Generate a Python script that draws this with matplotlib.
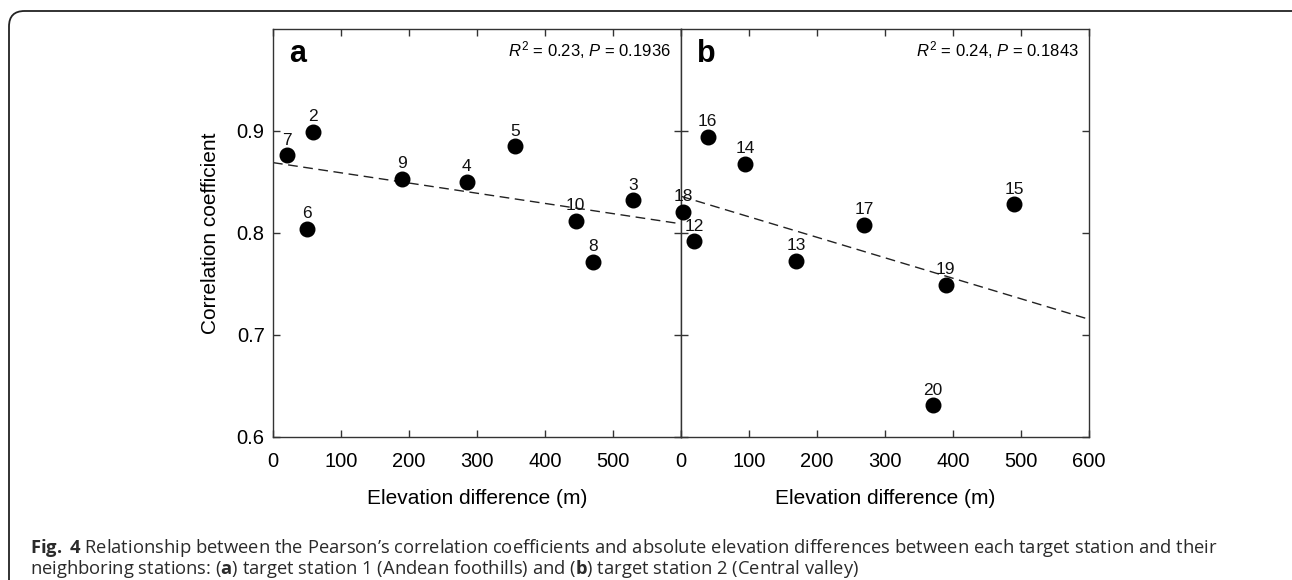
import numpy as np
import matplotlib as mpl
mpl.use('Agg')
import matplotlib.pyplot as plt
from matplotlib.patches import FancyBboxPatch

plt.rcParams['font.family'] = ['Liberation Sans', 'DejaVu Sans']
plt.rcParams['mathtext.fontset'] = 'custom'
plt.rcParams['mathtext.rm'] = 'Liberation Sans'
plt.rcParams['mathtext.it'] = 'Liberation Sans:italic'
plt.rcParams['mathtext.bf'] = 'Open Sans:bold'

# panel a: target station 1 (Andean foothills)
ids_a = ['7', '2', '6', '9', '4', '5', '10', '8', '3']
elev_a = [20, 59, 50, 190, 285, 356, 445, 470, 530]
corr_a = [0.876, 0.899, 0.804, 0.853, 0.850, 0.885, 0.812, 0.772, 0.832]
fit_a = (0.869, -0.000100)   # intercept, slope
stats_a = '$\\it{R}^2$ = 0.23, $\\it{P}$ = 0.1936'

# panel b: target station 2 (Central valley)
ids_b = ['18', '12', '16', '14', '13', '17', '20', '19', '15']
elev_b = [3, 19, 39, 94, 169, 269, 370, 389, 490]
corr_b = [0.821, 0.792, 0.894, 0.868, 0.773, 0.808, 0.631, 0.749, 0.828]
fit_b = (0.836, -0.000201)
stats_b = '$\\it{R}^2$ = 0.24, $\\it{P}$ = 0.1843'

xticks = [0, 100, 200, 300, 400, 500, 600]
yticks = [0.6, 0.7, 0.8, 0.9]

fig = plt.figure(figsize=(12.92, 5.80), dpi=100)
W, H = 1292, 580

# rounded frame around the figure
frame = FancyBboxPatch((9 / W, -0.2), 1.2, 1.2 - 11 / H,
                       boxstyle='round,pad=0,rounding_size=0.012',
                       transform=fig.transFigure, fill=False, lw=1.3,
                       ec='#222222', mutation_aspect=W / H)
fig.patches.append(frame)

ax_a = fig.add_axes([273 / W, 1 - 437 / H, 408 / W, 408 / H])
ax_b = fig.add_axes([681 / W, 1 - 437 / H, 408 / W, 408 / H])

panels = [(ax_a, ids_a, elev_a, corr_a, fit_a, stats_a, 'a'),
          (ax_b, ids_b, elev_b, corr_b, fit_b, stats_b, 'b')]

for ax, ids, ex, cy, fit, st, letter in panels:
    xs = np.array([0, 600])
    ax.plot(xs, fit[0] + fit[1] * xs, ls=(0, (7, 4)), color='#222222', lw=1.0)
    ax.scatter(ex, cy, s=110, color='black', zorder=3, clip_on=False)
    for lab, x, y in zip(ids, ex, cy):
        ax.annotate(lab, (x, y), xytext=(0, 5.5), textcoords='offset points',
                    ha='center', va='bottom', fontsize=12.5, color='#111111')
    ax.set_xlim(0, 600)
    ax.set_ylim(0.6, 1.0)
    ax.set_xticks(xticks)
    ax.set_yticks(yticks)
    ax.tick_params(direction='in', top=True, right=True, length=5,
                   width=1, labelsize=14.5, color='#333333')
    ax.tick_params(axis='x', pad=11)
    ax.tick_params(axis='y', pad=6)
    for sp in ax.spines.values():
        sp.set_linewidth(1.0)
        sp.set_color('#333333')
    ax.text(0.04, 0.975, letter, transform=ax.transAxes, fontsize=22,
            fontweight='bold', va='top', ha='left')
    ax.text(0.975, 0.975, st, transform=ax.transAxes, fontsize=12,
            va='top', ha='right')
    ax.set_xlabel('Elevation difference (m)', fontsize=15, labelpad=13)

ax_a.set_xticklabels(['0', '100', '200', '300', '400', '500', ''])
ax_a.set_ylabel('Correlation coefficient', fontsize=15, labelpad=12)
ax_b.set_yticklabels([])

cap_font = ['Open Sans', 'DejaVu Sans']
fig.text(30 / W, 1 - 548 / H,
         '$\\bf{Fig.}$ $\\bf{4}$ Relationship between the Pearson\u2019s correlation coefficients '
         'and absolute elevation differences between each target station and their',
         fontsize=13.2, family=cap_font, va='center', ha='left', color='#2a2a2a')
fig.text(30 / W, 1 - 569 / H,
         'neighboring stations: ($\\bf{a}$) target station 1 (Andean foothills) '
         'and ($\\bf{b}$) target station 2 (Central valley)',
         fontsize=13.2, family=cap_font, va='center', ha='left', color='#2a2a2a')

fig.savefig('out.png', dpi=100)
